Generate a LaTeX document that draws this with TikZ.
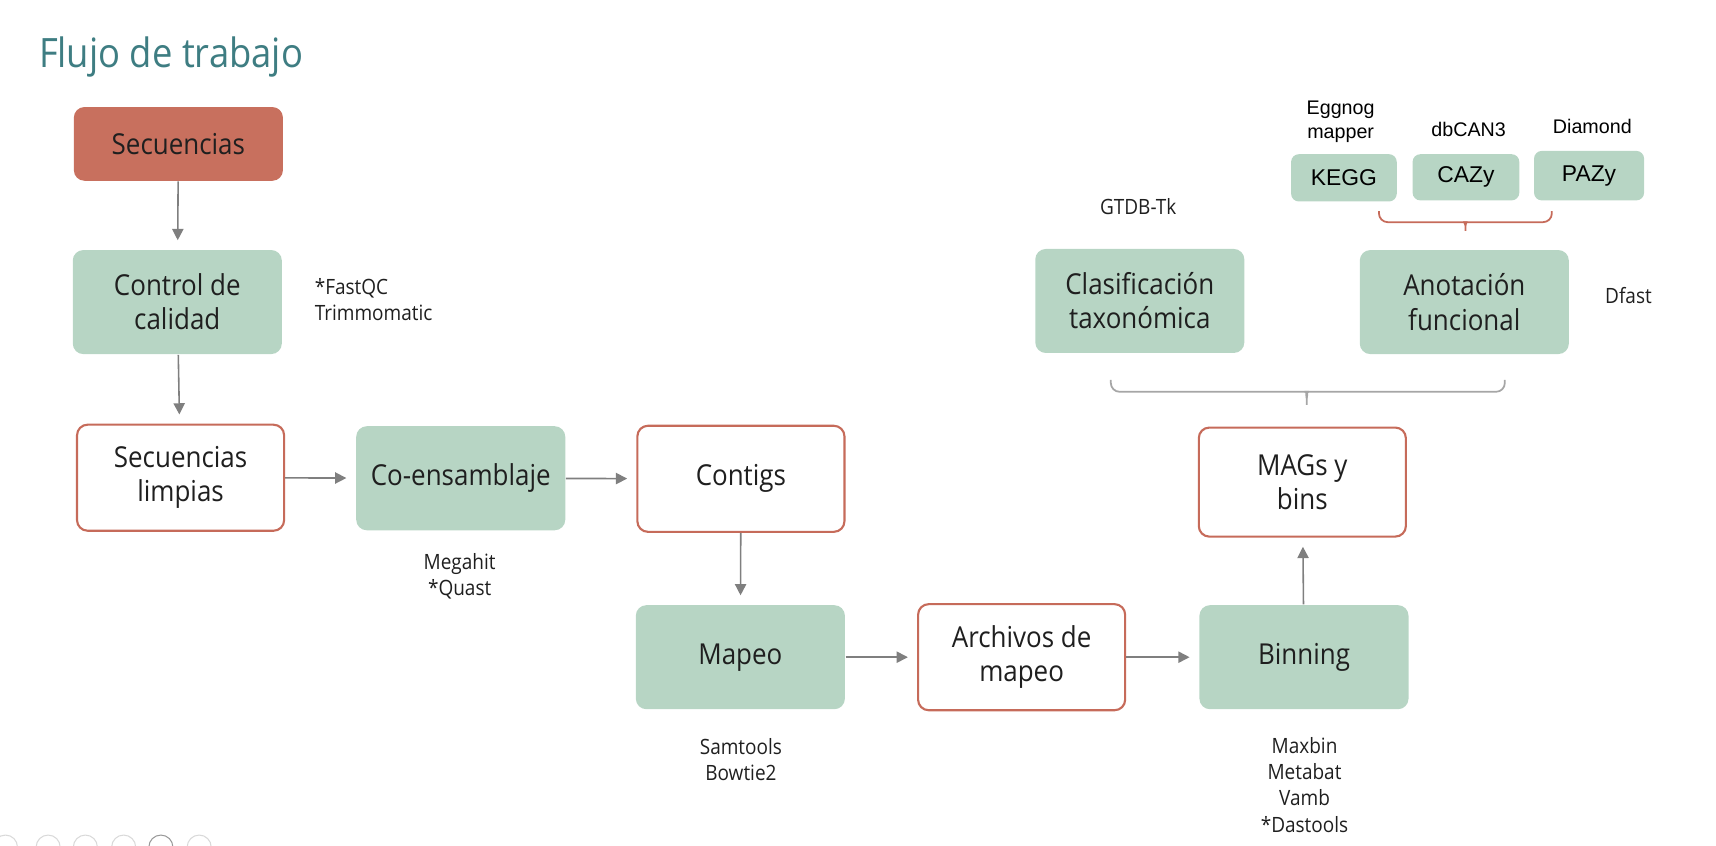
\documentclass[tikz,border=0pt]{standalone}
\usepackage{fontspec}
\setmainfont{Open Sans}[FakeStretch=0.9]
\newfontfamily\arialfont{Liberation Sans}
\usepackage{tikz}
\usetikzlibrary{arrows.meta,positioning}
\definecolor{verdecaja}{RGB}{183,213,196}
\definecolor{salmon}{RGB}{200,112,94}
\definecolor{bordeRojo}{RGB}{198,107,90}
\definecolor{flechaGris}{RGB}{127,127,127}
\definecolor{llaveGris}{RGB}{166,166,166}
\definecolor{tituloAzul}{RGB}{62,125,130}

\tikzset{
  caja/.style={rounded corners=3pt, minimum width=2.09cm, minimum height=1.04cm,
    align=center, inner sep=0pt, text=black!88, font=\fontsize{8.2}{9.7}\selectfont},
  verde/.style={caja, fill=verdecaja},
  blanca/.style={caja, draw=bordeRojo, line width=0.6pt, fill=white, minimum width=2.07cm, minimum height=1.06cm},
  base/.style={verde, rounded corners=2.2pt, text=black, font=\arialfont\fontsize{6.5}{7.5}\selectfont},
  herramienta/.style={align=center, inner sep=0pt, text=black!88, font=\fontsize{6}{7.5}\selectfont},
  programa/.style={align=center, inner sep=0pt, font=\arialfont\fontsize{5.6}{6.9}\selectfont},
  flecha/.style={draw=flechaGris, line width=0.45pt, -{Triangle[length=3.2pt,width=3.2pt]}, shorten >=2.6pt},
  llave/.style={line width=0.5pt}
}

\begin{document}
\begin{tikzpicture}[x=0.010944cm, y=-0.010944cm]
    \useasboundingbox (0,0) rectangle (1568,773);

    % Title
    \node[anchor=base west, inner sep=0pt, text=tituloAzul, font=\fontsize{11.5}{13}\selectfont] (titulo) at (35,62) {Flujo de trabajo};

    % Main pipeline
    \node[verde, fill=salmon, minimum height=0.737cm] (sec) at (163,131.5) {Secuencias};
    \node[verde] (cc) at (162,276) {Control de\\calidad};
    \node[blanca] (lim) at (165,436.5) {Secuencias\\limpias};
    \node[verde] (coe) at (421,437) {Co-ensamblaje};
    \node[blanca] (con) at (677,437.5) {Contigs};
    \node[verde] (map) at (676.5,600.5) {Mapeo};
    \node[blanca] (arc) at (933.5,600.5) {Archivos de\\mapeo};
    \node[verde] (bin) at (1191.5,600.5) {Binning};
    \node[blanca, minimum height=1.09cm] (mag) at (1190,440.5) {MAGs y\\bins};
    \node[verde] (cla) at (1041.5,275) {Clasificación\\taxonómica};
    \node[verde] (ano) at (1338,276) {Anotación\\funcional};

    % Databases
    \node[base, minimum width=1.056cm, minimum height=0.473cm] (kegg) at (1228,162.5) {KEGG};
    \node[base, minimum width=1.067cm, minimum height=0.462cm] (cazy) at (1339.5,162) {CAZy};
    \node[base, minimum width=1.1cm, minimum height=0.495cm] (pazy) at (1452,160.5) {PAZy};

    % Arrows
    \draw[flecha] (sec) -- (cc);
    \draw[flecha] (cc) -- (lim);
    \draw[flecha] (lim) -- (coe);
    \draw[flecha] (coe) -- (con);
    \draw[flecha] (con) -- (map);
    \draw[flecha] (map) -- (arc);
    \draw[flecha] (arc) -- (bin);
    \draw[flecha] (bin) -- (mag);

    % Brace over MAGs
    \draw[llave, llaveGris] (1015,347) [rounded corners=2.5pt] |- (1188,358) [sharp corners] .. controls (1193,358) .. (1194,364) -- (1194,370);
    \draw[llave, llaveGris] (1375,347) [rounded corners=2.5pt] |- (1200,358) [sharp corners] .. controls (1195,358) .. (1194,364);

    % Brace over databases
    \draw[llave, bordeRojo] (1260,193) [rounded corners=2.5pt] |- (1333,203) [sharp corners] .. controls (1338,203) .. (1339,206) -- (1339,211);
    \draw[llave, bordeRojo] (1418,193) [rounded corners=2.5pt] |- (1345,203) [sharp corners] .. controls (1340,203) .. (1339,206);

    % Tools
    \node[herramienta, anchor=west, align=left] (t1) at (287,274) {*FastQC\\Trimmomatic};
    \node[herramienta] (t2) at (420,526.5) {Megahit\\*Quast};
    \node[herramienta] (t3) at (677,694) {Samtools\\Bowtie2};
    \node[herramienta] (t4) at (1192,717) {Maxbin\\Metabat\\Vamb\\*Dastools};
    \node[herramienta] (t5) at (1040,189) {GTDB-Tk};
    \node[herramienta] (t6) at (1488,270) {Dfast};
    \node[programa] (p1) at (1225,111) {Eggnog\\mapper};
    \node[programa] (p2) at (1342,118) {dbCAN3};
    \node[programa] (p3) at (1455,116) {Diamond};

    % Slide navigation
    \foreach \cx/\tono in {5/15, 44/15, 78/15, 113/15, 147/40, 182/15}
        \draw[black!\tono, line width=0.3pt] (\cx,774) circle (0.12cm);
\end{tikzpicture}
\end{document}
